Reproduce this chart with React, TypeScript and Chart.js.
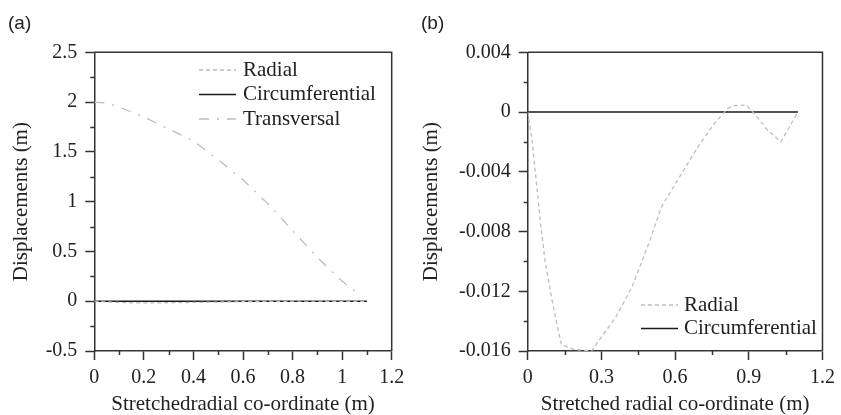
import React, { useEffect, useRef } from "react";
import { Chart, registerables } from "chart.js";

Chart.register(...registerables);

// ---------- data ----------
const radialX = [0, 0.017, 0.031, 0.051, 0.071, 0.098, 0.125, 0.138, 0.19, 0.26, 0.29, 0.36, 0.425, 0.493, 0.546, 0.627, 0.694, 0.761, 0.815, 0.842, 0.889, 0.922, 0.976, 1.03, 1.1];
const radialY = [0, -0.0018, -0.004, -0.0073, -0.01, -0.0125, -0.0147, -0.0156, -0.0159, -0.016, -0.0153, -0.0137, -0.0117, -0.0088, -0.0063, -0.0041, -0.0023, -0.00075, 0.00025, 0.00043, 0.00047, -0.0001, -0.0012, -0.002, 0];

const circX = [0, 1.1];
const circY = [0, 0];

const transX = [0, 0.05, 0.1, 0.2, 0.3, 0.4, 0.5, 0.6, 0.7, 0.8, 0.9, 1.0, 1.075];
const transY = [2.0, 1.99, 1.95, 1.85, 1.73, 1.61, 1.42, 1.22, 0.98, 0.71, 0.44, 0.2, 0.06];

const xTicksA = [0, 0.2, 0.4, 0.6, 0.8, 1, 1.2];
const xMinorA = [0.1, 0.3, 0.5, 0.7, 0.9, 1.1];
const yTicksA = [-0.5, 0, 0.5, 1, 1.5, 2, 2.5];
const yMinorA = [-0.25, 0.25, 0.75, 1.25, 1.75, 2.25];

const xTicksB = [0, 0.3, 0.6, 0.9, 1.2];
const xMinorB = [0.15, 0.45, 0.75, 1.05];
const yTicksB = [-0.016, -0.012, -0.008, -0.004, 0, 0.004];
const yMinorB = [-0.014, -0.01, -0.006, -0.002, 0.002];

const labelRadial = "Radial";
const labelCirc = "Circumferential";
const labelTrans = "Transversal";

// ---------- styles ----------
const SERIF = "'Liberation Serif', 'Times New Roman', serif";
const SANS = "'Liberation Sans', Arial, sans-serif";
const AXIS = "#333333";
const TEXT = "#222222";
const GRAY = "#bdbdbd";

const pts = (xs: number[], ys: number[]) => xs.map((x, i) => ({ x, y: ys[i] }));

const framePlugin = {
  id: "frameMinor",
  afterDraw(chart: any, _args: any, opts: any) {
    const { ctx, chartArea } = chart;
    const { left, right, top, bottom } = chartArea;
    ctx.save();
    ctx.strokeStyle = AXIS;
    ctx.lineWidth = 1.5;
    ctx.beginPath();
    ctx.moveTo(left, top);
    ctx.lineTo(right, top);
    ctx.lineTo(right, bottom);
    ctx.stroke();
    const len = opts.len || 4;
    const xs = chart.scales.x;
    const ys = chart.scales.y;
    ctx.beginPath();
    (opts.x || []).forEach((v: number) => {
      const p = Math.round(xs.getPixelForValue(v)) + 0.5;
      ctx.moveTo(p, bottom);
      ctx.lineTo(p, bottom + len);
    });
    (opts.y || []).forEach((v: number) => {
      const p = Math.round(ys.getPixelForValue(v)) + 0.5;
      ctx.moveTo(left - len, p);
      ctx.lineTo(left, p);
    });
    ctx.stroke();
    ctx.restore();
  },
};

const legendPlugin = {
  id: "innerLegend",
  afterDraw(chart: any, _args: any, opts: any) {
    const { ctx } = chart;
    ctx.save();
    ctx.font = `21px ${SERIF}`;
    ctx.textBaseline = "middle";
    ctx.textAlign = "left";
    chart.data.datasets.forEach((ds: any, i: number) => {
      const y = opts.y0 + i * opts.dy;
      ctx.strokeStyle = ds.borderColor;
      ctx.lineWidth = ds.borderWidth;
      ctx.setLineDash(ds.borderDash || []);
      ctx.beginPath();
      ctx.moveTo(opts.x, y);
      ctx.lineTo(opts.x + opts.len, y);
      ctx.stroke();
      ctx.setLineDash([]);
      ctx.fillStyle = TEXT;
      ctx.fillText(ds.label, opts.textX, y);
    });
    ctx.restore();
  },
};

const panelLabelPlugin = {
  id: "panelLabel",
  afterDraw(chart: any, _args: any, opts: any) {
    const { ctx } = chart;
    ctx.save();
    ctx.font = `19px ${SANS}`;
    ctx.fillStyle = TEXT;
    ctx.textBaseline = "middle";
    ctx.textAlign = "left";
    ctx.fillText(opts.text, opts.x, opts.y);
    ctx.restore();
  },
};

function makeConfig(p: any) {
  const tickFont = { family: SERIF, size: 20 };
  const titleFont = { family: SERIF, size: 21, lineHeight: 1 };
  return {
    type: "line",
    data: { datasets: p.datasets },
    plugins: [framePlugin, legendPlugin, panelLabelPlugin],
    options: {
      animation: false,
      responsive: false,
      maintainAspectRatio: false,
      layout: { padding: { left: 0, right: p.padRight, top: 52.3, bottom: 0 } },
      elements: { point: { radius: 0 }, line: { tension: 0 } },
      plugins: {
        legend: { display: false },
        tooltip: { enabled: false },
        frameMinor: { x: p.xMinor, y: p.yMinor, len: 4 },
        innerLegend: p.legend,
        panelLabel: p.label,
      },
      scales: {
        x: {
          type: "linear",
          min: 0,
          max: 1.2,
          afterBuildTicks: (s: any) => {
            s.ticks = p.xTicks.map((v: number) => ({ value: v }));
          },
          afterFit: (s: any) => {
            s.height = 64;
          },
          ticks: {
            autoSkip: false,
            maxRotation: 0,
            padding: 6,
            color: TEXT,
            font: tickFont,
            callback: (v: any) => String(v),
          },
          grid: { drawOnChartArea: false, tickLength: 9, color: AXIS, tickWidth: 1.5 },
          border: { display: true, color: AXIS, width: 1.5 },
          title: {
            display: true,
            text: p.xTitle,
            color: TEXT,
            font: titleFont,
            padding: { top: 0, bottom: 0 },
          },
        },
        y: {
          type: "linear",
          min: p.yMin,
          max: p.yMax,
          afterBuildTicks: (s: any) => {
            s.ticks = p.yTicks.map((v: number) => ({ value: v }));
          },
          afterFit: (s: any) => {
            s.width = p.yWidth;
          },
          ticks: {
            autoSkip: false,
            padding: 8,
            color: TEXT,
            font: tickFont,
            callback: (v: any) => String(v),
          },
          grid: { drawOnChartArea: false, tickLength: 9, color: AXIS, tickWidth: 1.5 },
          border: { display: true, color: AXIS, width: 1.5 },
          title: {
            display: true,
            text: "Displacements (m)",
            color: TEXT,
            font: titleFont,
            padding: { top: p.yTitlePad, bottom: 0 },
          },
        },
      },
    },
  };
}

const radialDs = () => ({
  label: labelRadial,
  data: pts(radialX, radialY),
  borderColor: GRAY,
  borderWidth: 1.3,
  borderDash: [4, 3],
  fill: false,
});
const circDs = () => ({
  label: labelCirc,
  data: pts(circX, circY),
  borderColor: "#1a1a1a",
  borderWidth: 1.5,
  fill: false,
});
const transDs = () => ({
  label: labelTrans,
  data: pts(transX, transY),
  borderColor: GRAY,
  borderWidth: 1.3,
  borderDash: [10, 8, 2, 8],
  fill: false,
});

export default function App() {
  const refA = useRef<HTMLCanvasElement | null>(null);
  const refB = useRef<HTMLCanvasElement | null>(null);

  useEffect(() => {
    const a = new Chart(
      refA.current as HTMLCanvasElement,
      makeConfig({
        datasets: [radialDs(), circDs(), transDs()],
        xTicks: xTicksA,
        xMinor: xMinorA,
        yTicks: yTicksA,
        yMinor: yMinorA,
        yMin: -0.5,
        yMax: 2.5,
        yWidth: 94.3,
        yTitlePad: 10.5,
        padRight: 28.3,
        xTitle: "Stretchedradial co-ordinate (m)",
        legend: { x: 199, len: 37, textX: 243, y0: 70, dy: 24.5 },
        label: { text: "(a)", x: 8, y: 24 },
      }) as any
    );
    const b = new Chart(
      refB.current as HTMLCanvasElement,
      makeConfig({
        datasets: [radialDs(), circDs()],
        xTicks: xTicksB,
        xMinor: xMinorB,
        yTicks: yTicksB,
        yMinor: yMinorB,
        yMin: -0.016,
        yMax: 0.004,
        yWidth: 107.7,
        yTitlePad: 0.5,
        padRight: 15.3,
        xTitle: "Stretched radial co-ordinate (m)",
        legend: { x: 221, len: 37, textX: 264, y0: 305, dy: 23.5 },
        label: { text: "(b)", x: 1, y: 24 },
      }) as any
    );
    return () => {
      a.destroy();
      b.destroy();
    };
  }, []);

  return (
    <div style={{ position: "absolute", left: 0, top: 0, width: 841, height: 415, background: "#fff", overflow: "hidden" }}>
      <canvas ref={refA} width={420} height={415} style={{ position: "absolute", left: 0, top: 0, width: 420, height: 415, display: "block" }} />
      <canvas ref={refB} width={421} height={415} style={{ position: "absolute", left: 420, top: 0, width: 421, height: 415, display: "block" }} />
    </div>
  );
}
